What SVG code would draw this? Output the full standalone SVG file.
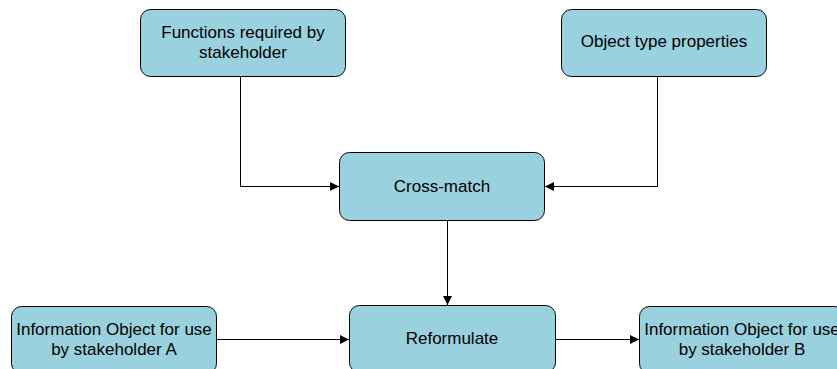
<svg xmlns="http://www.w3.org/2000/svg" width="837" height="369" viewBox="0 0 837 369">
<defs>
<marker id="arr" viewBox="0 0 10 10" refX="10" refY="5" markerWidth="9" markerHeight="9" markerUnits="userSpaceOnUse" orient="auto">
<path d="M0,0 L10,5 L0,10 z" fill="#000"/>
</marker>
<style>
.box{fill:#99D1DE;stroke:#000;stroke-width:1}
.t{font-family:"Liberation Sans",Arial,sans-serif;font-size:17px;fill:#000;text-anchor:middle}
.c{fill:none;stroke:#000;stroke-width:1}
</style>
</defs>
<rect width="837" height="369" fill="#fff"/>
<g id="connectors">
<path class="c" d="M240.5,76.5 V186.5 H339" marker-end="url(#arr)"/>
<path class="c" d="M657.5,76.5 V186.5 H545" marker-end="url(#arr)"/>
<path class="c" d="M447.5,220.5 V305" marker-end="url(#arr)"/>
<path class="c" d="M216.5,339.5 H349" marker-end="url(#arr)"/>
<path class="c" d="M555.5,339.5 H639" marker-end="url(#arr)"/>
</g>
<g id="functions">
<rect class="box" x="140.5" y="9.5" width="205" height="67" rx="10"/>
<text class="t" x="243" y="38">Functions required by</text>
<text class="t" x="243" y="58">stakeholder</text>
</g>
<g id="objtype">
<rect class="box" x="561.5" y="9.5" width="205" height="67" rx="10"/>
<text class="t" x="664" y="47">Object type properties</text>
</g>
<g id="crossmatch">
<rect class="box" x="339.5" y="152.5" width="205" height="68" rx="10"/>
<text class="t" x="442" y="191.5">Cross-match</text>
</g>
<g id="infoA">
<rect class="box" x="11.5" y="306.5" width="205" height="67" rx="10"/>
<text class="t" x="114" y="335">Information Object for use</text>
<text class="t" x="114" y="355">by stakeholder A</text>
</g>
<g id="reformulate">
<rect class="box" x="349.5" y="305.5" width="206" height="67" rx="10"/>
<text class="t" x="452" y="343.5">Reformulate</text>
</g>
<g id="infoB">
<rect class="box" x="639.5" y="306.5" width="205" height="67" rx="10"/>
<text class="t" x="742" y="335">Information Object for use</text>
<text class="t" x="742" y="355">by stakeholder B</text>
</g>
</svg>
